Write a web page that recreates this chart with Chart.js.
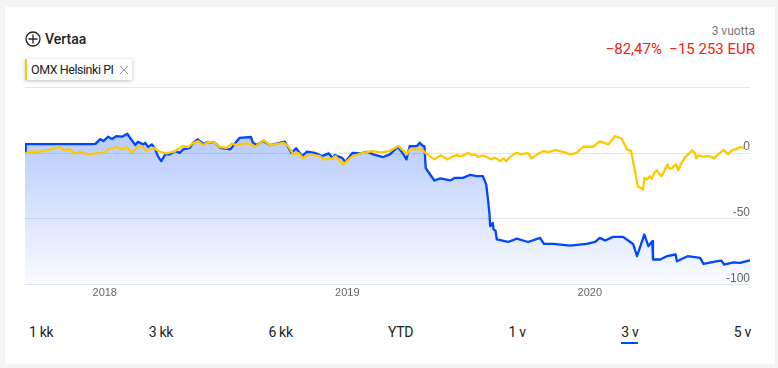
<!DOCTYPE html>
<html lang="fi">
<head>
<meta charset="utf-8">
<title>Vertaa</title>
<script src="https://cdn.jsdelivr.net/npm/chart.js@4"></script>
<style>
    html, body { margin: 0; padding: 0; }
    body { width: 778px; height: 368px; background: #f4f4f4; overflow: hidden; font-family: Roboto, sans-serif; color: #222; }
    .card { position: absolute; left: 5px; top: 7px; width: 770px; height: 357px; background: #fff; }
    .page { position: absolute; left: 0; top: 0; width: 778px; height: 368px; }
    .compare { position: absolute; left: 25px; top: 30px; display: flex; align-items: center; font-size: 14px; font-weight: 500; line-height: 18px; }
    .compare svg { margin-right: 4px; }
    .chip { position: absolute; left: 25px; top: 59px; width: 101px; height: 21px; background: #fff; border-left: 2px solid #ffc800; box-shadow: 0 1px 4px rgba(0,0,0,.25); font-size: 12.5px; letter-spacing: -0.45px; line-height: 21px; padding-left: 4px; white-space: nowrap; }
    .chip svg { position: absolute; left: 93px; top: 7px; }
    .period { position: absolute; right: 23px; top: 24px; font-size: 12px; line-height: 15px; color: #777; }
    .change { position: absolute; right: 23px; top: 41px; font-size: 15px; line-height: 17px; color: #f5220f; white-space: pre; }
    #wrap { position: absolute; left: 25px; top: 80px; width: 725px; height: 222px; }
    .ranges { position: absolute; left: 29px; top: 323px; width: 722px; display: flex; justify-content: space-between; font-size: 14px; letter-spacing: -0.3px; line-height: 18px; }
    .ranges span { position: relative; }
    .ranges .on::after { content: ''; position: absolute; left: 0; right: 0; top: 19px; height: 2px; background: #0046ff; }
</style>
</head>
<body>
<div class="card"></div>
<div class="page">
    <div class="compare">
        <svg width="16" height="16" viewBox="0 0 16 16"><circle cx="8" cy="8" r="7" fill="none" stroke="#222" stroke-width="1.3"/><path d="M8 3.5v9M3.5 8h9" stroke="#222" stroke-width="1.3"/></svg>
        Vertaa
    </div>
    <div class="chip">OMX Helsinki PI<svg width="8" height="8" viewBox="0 0 8 8"><path d="M0 0l8 8M8 0l-8 8" stroke="#888" stroke-width="0.8"/></svg></div>
    <div class="period">3 vuotta</div>
    <div class="change">−82,47%  −15 253 EUR</div>
    <div id="wrap"><canvas id="grafico"></canvas></div>
    <div class="ranges">
        <span>1 kk</span><span>3 kk</span><span>6 kk</span><span>YTD</span><span>1 v</span><span class="on">3 v</span><span>5 v</span>
    </div>
</div>
<script>
// days counted from the start of the 3 year window, change in %
const osakeDays = [0, 1, 101, 106, 113, 118, 125, 131, 137, 146, 154, 158, 166, 170, 178, 181, 185, 191, 196, 200, 205, 211, 218, 226, 233, 238, 248, 253, 260, 268, 275, 286, 294, 309, 319, 323, 340, 343, 349, 358, 369, 391, 401, 408, 417, 424, 436, 447, 457, 463, 466, 477, 482, 493, 505, 515, 524, 539, 549, 561, 568, 574, 579, 590, 594, 599, 601, 603, 607, 616, 625, 640, 647, 659, 670, 680, 689, 694, 697, 699, 700, 704, 705, 708, 710, 727, 740, 757, 775, 781, 795, 820, 845, 858, 865, 873, 885, 900, 915, 921, 927, 932, 938, 944, 945, 956, 966, 979, 981, 997, 1016, 1021, 1042, 1048, 1052, 1066, 1076, 1089, 1091];
const osakeValues = [0, 6.8, 6.8, 7, 10.6, 9.1, 12.4, 10.6, 12.9, 12.4, 14.7, 11.6, 6.1, 8.6, 6.6, 7.8, 4.6, 6.6, 2.8, -2.3, -6.1, -1, -1, 1.5, 0.2, 2.8, 4, 7.8, 10.4, 7.1, 8.4, 7.8, 4, 2.8, 9.1, 11.6, 12.2, 7.8, 6.1, 9.1, 6.1, 8.6, 0.2, 3.6, -2.3, 1, 0.2, -2.3, -0.2, -4, -1.5, -3.6, -6.6, 0.2, -0.2, 1, -1, -3, -1, 4.6, 0.2, -4.8, 5.3, 5.3, 7.8, 5.3, 5.3, -11.2, -14.4, -20.8, -19.2, -20.8, -18.8, -18.8, -16.5, -17.5, -17.5, -23.6, -36.5, -46.6, -55.5, -53, -58, -58.8, -65.6, -67.5, -64.9, -67.5, -64.4, -69, -69, -70.2, -69, -67.5, -64.4, -66.4, -63.6, -63.6, -69, -78.3, -69.4, -61.8, -70.7, -66.9, -80.8, -80.8, -78.3, -77, -82.1, -78.3, -79.6, -84.2, -82.1, -81.6, -84.6, -82.9, -83.4, -81.6, -81.6];

const indeksiDays = [0, 8, 18, 28, 38, 52, 58, 68, 75, 83, 95, 113, 120, 125, 138, 146, 153, 161, 168, 176, 183, 193, 203, 213, 226, 238, 246, 253, 261, 268, 276, 286, 293, 304, 311, 319, 329, 339, 346, 359, 369, 389, 396, 404, 411, 419, 429, 444, 449, 462, 467, 479, 491, 504, 522, 535, 549, 562, 570, 575, 579, 597, 605, 616, 625, 630, 635, 640, 645, 650, 654, 657, 662, 667, 672, 677, 682, 690, 695, 702, 706, 710, 715, 720, 724, 730, 735, 740, 747, 756, 759, 762, 768, 773, 780, 788, 798, 805, 812, 820, 830, 840, 855, 865, 878, 888, 898, 906, 912, 917, 922, 930, 932, 936, 940, 943, 947, 951, 955, 958, 962, 967, 969, 973, 977, 980, 983, 988, 993, 998, 1004, 1008, 1010, 1013, 1021, 1028, 1033, 1037, 1043, 1051, 1055, 1058, 1064, 1069, 1076, 1082];
const indeksiValues = [-0.2, 1, 1, 1.5, 2.8, 4.6, 2.3, 2.8, -0.2, 1, -1, 0.2, 0.2, 2.8, 4.6, 2.8, 4.6, 0.2, 4, 5.3, 1.5, 4, 1, -0.2, 1.5, 5.3, 4.6, 7.8, 9.1, 6.1, 8.4, 7.8, 4.6, 4, 7.1, 6.1, 7.1, 7.1, 4.6, 9.7, 6.1, 7.8, 5.3, -1, 0.2, -4, -1, -2.3, -4.8, -4.3, -2.3, -8.6, -3, -0.5, 1.5, 0.5, 1.5, 5.3, 1.5, -1, 2.8, 2.8, -1, -4.8, -1.8, -2.8, -4.8, -3.5, -2.3, -1.5, -2.5, -2.3, -1.2, 0.2, -1.5, -1, -2.8, -1.8, -3, -4.8, -3.5, -4.3, -6.1, -4, -6.1, -3, -1, 0.2, -1, 0.2, -1.5, -4, -2, -0.3, 1.5, 0.7, 2.3, 1.5, 0.5, -1, 0.2, 4.8, 4.8, 8.9, 6.6, 12.9, 10.9, 2.8, 1.5, -11.2, -25.1, -27.6, -18.8, -20, -17.5, -19.5, -15, -13.2, -16.2, -17.5, -13.7, -8.6, -11.2, -12, -9.4, -8.6, -13.2, -7.4, -3.5, -1, 2, 0.2, -4, -1.8, -2.8, -2.3, -2.8, -4, -1, 2.3, 0.7, -1, 2, 2.8, 4.5, 4];

const yearTicks = [120, 485, 850];
const yearLabels = ['2018', '2019', '2020'];
const valueTicks = [-100, -50, 0, 50];
const valueLabels = ['-100', '-50', '0', ''];

function toPoints(days, values) {
    return days.map((d, i) => ({ x: d, y: values[i] }));
}

function blueFill(context) {
    const area = context.chart.chartArea;
    if (!area) return 'rgba(0, 70, 255, 0.2)';
    const g = context.chart.ctx.createLinearGradient(0, area.top + 50, 0, area.bottom);
    g.addColorStop(0, 'rgba(0, 70, 255, 0.28)');
    g.addColorStop(1, 'rgba(0, 70, 255, 0.02)');
    return g;
}

new Chart(document.getElementById('grafico'), {
    type: 'line',
    data: {
        datasets: [
            {
                label: 'OMX Helsinki PI',
                data: toPoints(indeksiDays, indeksiValues),
                borderColor: '#ffc800',
                borderWidth: 2.3,
                borderJoinStyle: 'round',
                pointRadius: 0,
                fill: false,
            },
            {
                label: 'Osake',
                data: toPoints(osakeDays, osakeValues),
                borderColor: '#0046ff',
                borderWidth: 2.3,
                borderJoinStyle: 'round',
                pointRadius: 0,
                fill: 'start',
                backgroundColor: blueFill,
            },
        ],
    },
    options: {
        responsive: true,
        maintainAspectRatio: false,
        animation: false,
        layout: { padding: { top: 5.5 } },
        plugins: { legend: { display: false }, tooltip: { enabled: false } },
        scales: {
            x: {
                type: 'linear',
                min: 0,
                max: 1091,
                grid: { display: false, tickLength: 0 },
                border: { display: false },
                afterBuildTicks: (axis) => { axis.ticks = yearTicks.map((value) => ({ value })); },
                ticks: {
                    maxRotation: 0,
                    padding: 2,
                    color: '#666',
                    font: { family: 'Liberation Sans', size: 11 },
                    callback: (v) => yearLabels[yearTicks.indexOf(v)],
                },
            },
            y: {
                position: 'right',
                min: -100,
                max: 50,
                grid: { color: '#e6e6e6', drawTicks: false },
                border: { display: false },
                afterBuildTicks: (axis) => { axis.ticks = valueTicks.map((value) => ({ value })); },
                ticks: {
                    mirror: true,
                    padding: 0,
                    labelOffset: -6,
                    color: '#666',
                    font: { family: 'Liberation Sans', size: 12 },
                    callback: (v) => valueLabels[valueTicks.indexOf(v)],
                },
            },
        },
    },
});
</script>
</body>
</html>
